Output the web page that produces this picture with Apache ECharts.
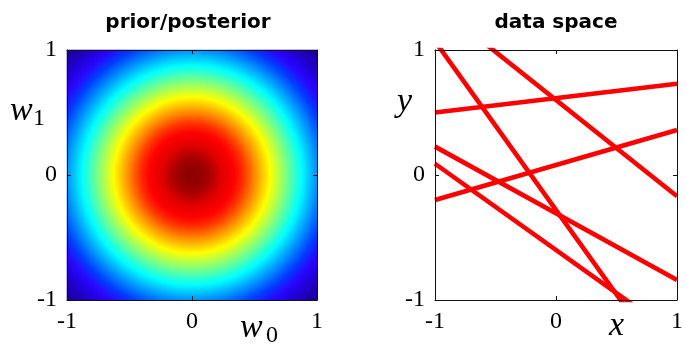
<!DOCTYPE html>
<html><head><meta charset="utf-8">
<script src="https://cdn.jsdelivr.net/npm/echarts@6/dist/echarts.min.js"></script>
<style>html,body{margin:0;padding:0;background:#fff}#c{width:686px;height:345px}</style>
</head><body><div id="c"></div>
<script>
// ---- data ----
const panelTitles = ['prior/posterior', 'data space'];
const tickValues = [-1, 0, 1];
const priorMean = [0, 0];
const priorAlpha = 2.0;
const priorCells = 125;
const lineEndX = [-1, 1];
const lineYAtLeft = [1.07, 1.37, 0.50, -0.20, 0.227, 0.09];
const lineYAtRight = [-1.63, -0.17, 0.73, 0.36, -0.84, -1.29];
const jetColors = ['#1c0098', '#2200d0', '#2a08ff', '#0040ff', '#0080ff', '#00c0ff', '#00ffff', '#40ffc0',
  '#80ff80', '#c0ff40', '#ffff00', '#ffc000', '#ff8000', '#ff3800', '#ff0000', '#e00000', '#8c0000'];

// ---- build prior grid ----
const cellCats = [];
for (let i = 0; i < priorCells; i++) cellCats.push(String(i));
const cellCenter = i => tickValues[0] + (i + 0.5) * (tickValues[2] - tickValues[0]) / priorCells;
const raw = [];
let gmin = Infinity, gmax = -Infinity;
for (let i = 0; i < priorCells; i++) {
  for (let j = 0; j < priorCells; j++) {
    const d0 = cellCenter(i) - priorMean[0], d1 = cellCenter(j) - priorMean[1];
    const g = Math.exp(-priorAlpha / 2 * (d0 * d0 + d1 * d1));
    gmin = Math.min(gmin, g); gmax = Math.max(gmax, g);
    raw.push([i, j, g]);
  }
}
const heatData = raw.map(r => [r[0], r[1], (r[2] - gmin) / (gmax - gmin)]);

const lineSeries = lineYAtLeft.map((yl, k) => ({
  type: 'line', xAxisIndex: 3, yAxisIndex: 3, clip: true, symbol: 'none', silent: true,
  data: [[lineEndX[0], yl], [lineEndX[1], lineYAtRight[k]]],
  lineStyle: {color: '#ff0000', width: 4.6}, z: 3
}));

function valAxis(gridIndex, position, showLabel) {
  return {
    type: 'value', gridIndex, position, min: tickValues[0], max: tickValues[2],
    interval: tickValues[1] - tickValues[0], z: 5,
    axisLine: {show: true, onZero: false, lineStyle: {color: '#111', width: 1}},
    axisTick: {show: true, inside: true, length: 4, lineStyle: {color: '#111'}},
    axisLabel: {show: showLabel, fontFamily: 'Liberation Serif', fontSize: 24, color: '#000', margin: position === 'bottom' ? 10 : 10},
    splitLine: {show: false}
  };
}

const serifName = (txt, x, y, size) => ({
  type: 'text', x, y,
  style: {text: txt, font: 'italic ' + size + 'px "Liberation Serif"', fill: '#000', textAlign: 'left', textVerticalAlign: 'middle'}
});

const chart = echarts.init(document.getElementById('c'), null, {renderer: 'canvas'});
chart.setOption({
  animation: false,
  backgroundColor: '#fff',
  grid: [
    {left: 67, top: 50, width: 250, height: 250},
    {left: 435, top: 50, width: 247, height: 250}
  ],
  xAxis: [
    {type: 'category', gridIndex: 0, data: cellCats, show: false, position: 'bottom'},
    valAxis(0, 'bottom', true),
    valAxis(0, 'top', false),
    valAxis(1, 'bottom', true),
    valAxis(1, 'top', false)
  ],
  yAxis: [
    {type: 'category', gridIndex: 0, data: cellCats, show: false, position: 'left'},
    valAxis(0, 'left', true),
    valAxis(0, 'right', false),
    valAxis(1, 'left', true),
    valAxis(1, 'right', false)
  ],
  visualMap: {
    type: 'continuous', show: false, min: 0, max: 1, dimension: 2, seriesIndex: 0,
    inRange: {color: jetColors}
  },
  series: [
    {type: 'heatmap', xAxisIndex: 0, yAxisIndex: 0, data: heatData, progressive: 0, silent: true,
     emphasis: {disabled: true}, z: 1}
  ].concat(lineSeries),
  graphic: [
    {type: 'text', x: 188, y: 23, style: {text: panelTitles[0], font: 'bold 20px "DejaVu Sans"', fill: '#000', textAlign: 'center', textVerticalAlign: 'middle'}},
    {type: 'text', x: 556, y: 23, style: {text: panelTitles[1], font: 'bold 20px "DejaVu Sans"', fill: '#000', textAlign: 'center', textVerticalAlign: 'middle'}},
    serifName('w', 10, 111, 34),
    {type: 'text', x: 33, y: 119, style: {text: '1', font: '24px "Liberation Serif"', fill: '#000', textAlign: 'left', textVerticalAlign: 'middle'}},
    serifName('w', 240, 328, 34),
    {type: 'text', x: 266, y: 336, style: {text: '0', font: '24px "Liberation Serif"', fill: '#000', textAlign: 'left', textVerticalAlign: 'middle'}},
    serifName('x', 609, 326, 34),
    serifName('y', 397, 102, 34)
  ]
});
</script></body></html>
